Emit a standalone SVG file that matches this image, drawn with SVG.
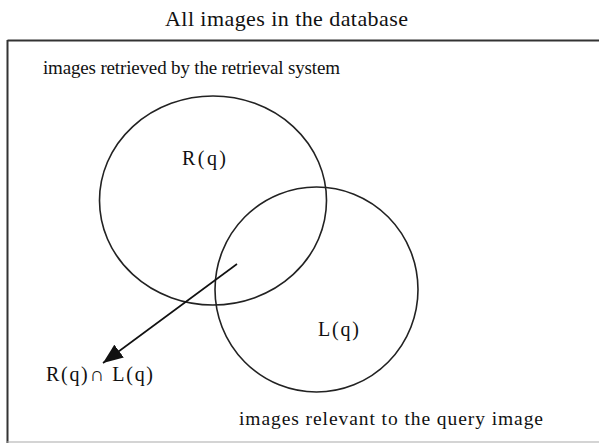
<svg xmlns="http://www.w3.org/2000/svg" width="599" height="443" viewBox="0 0 599 443">
<defs>
<style>
.t{font-family:"Liberation Serif","Times New Roman",serif;fill:#111}
.c{fill:none;stroke:#222;stroke-width:1.6}
</style>
<marker id="ah2" viewBox="0 0 20 16" refX="20" refY="8" markerWidth="20" markerHeight="16" markerUnits="userSpaceOnUse" orient="auto">
<path d="M0,0 L20,8 L0,16 z" fill="#111"/>
</marker>
</defs>
<rect width="599" height="443" fill="#fff"/>
<text class="t" x="165" y="26" font-size="22" textLength="243" lengthAdjust="spacing">All images in the database</text>
<g id="frame">
<line x1="7.5" y1="40.5" x2="599" y2="40.5" stroke="#333" stroke-width="2.2"/>
<line x1="7.5" y1="40" x2="7.5" y2="443" stroke="#333" stroke-width="2"/>
<line x1="7" y1="442" x2="599" y2="442" stroke="#aaa" stroke-width="1.2"/>
</g>
<text class="t" x="43" y="74" font-size="19" textLength="297" lengthAdjust="spacing">images retrieved by the retrieval system</text>
<g id="R">
<ellipse class="c" cx="213" cy="200.5" rx="113.5" ry="104.5"/>
<text class="t" x="182" y="165" font-size="20" textLength="44" lengthAdjust="spacing">R(q)</text>
</g>
<g id="L">
<ellipse class="c" cx="316.5" cy="289.5" rx="101.5" ry="102.5"/>
<text class="t" x="318" y="336" font-size="20" textLength="41" lengthAdjust="spacing">L(q)</text>
</g>
<g id="connectors">
<line x1="237" y1="264" x2="103" y2="363" stroke="#111" stroke-width="1.6" marker-end="url(#ah2)"/>
</g>
<g id="intersection">
<text class="t" x="46" y="381" font-size="20" textLength="107" lengthAdjust="spacing">R(q)∩ L(q)</text>
</g>
<text class="t" x="239" y="425" font-size="19.5" textLength="304" lengthAdjust="spacing">images relevant to the query image</text>
</svg>
